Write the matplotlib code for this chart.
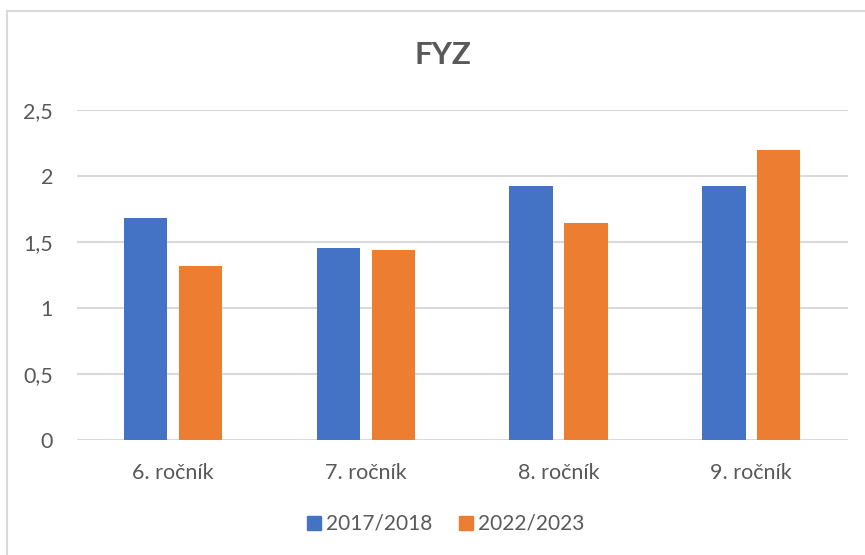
import matplotlib
matplotlib.use("Agg")
import matplotlib.pyplot as plt
from matplotlib.patches import Patch, Rectangle
import numpy as np

# data
categories = ["6. ročník", "7. ročník", "8. ročník", "9. ročník"]
series_names = ["2017/2018", "2022/2023"]
vals_2017 = [1.68, 1.45, 1.92, 1.92]
vals_2022 = [1.32, 1.44, 1.64, 2.20]
yticks = [0, 0.5, 1, 1.5, 2, 2.5]
ytick_labels = ["0", "0,5", "1", "1,5", "2", "2,5"]

blue = "#4472C4"
orange = "#ED7D31"
grey_txt = "#595959"
grid_col = "#D9D9D9"

plt.rcParams["font.family"] = ["Lato", "DejaVu Sans"]

fig = plt.figure(figsize=(8.65, 5.55), dpi=100)
ax = fig.add_axes([76.7 / 865, 1 - 439.7 / 555, 771 / 865, 329.7 / 555])

x = np.arange(len(categories))
w = 0.225
off = 0.1425
ax.bar(x - off, vals_2017, width=w, color=blue, zorder=3)
ax.bar(x + off, vals_2022, width=w, color=orange, zorder=3)

ax.set_xlim(-0.5, len(categories) - 0.5)
ax.set_ylim(0, 2.5)
ax.set_yticks(yticks)
ax.set_yticklabels(ytick_labels)
ax.set_xticks(x)
ax.set_xticklabels(categories)

for s in ax.spines.values():
    s.set_visible(False)
ax.grid(axis="y", color=grid_col, linewidth=1.5, zorder=0)
ax.tick_params(axis="both", length=0, labelsize=15.5, labelcolor=grey_txt)
ax.tick_params(axis="y", pad=17)
ax.tick_params(axis="x", pad=17)

# title
fig.text(443 / 865, 1 - 55.5 / 555, "FYZ", ha="center", va="center",
         fontsize=22.5, fontweight="bold", color=grey_txt)

# legend
handles = [Patch(color=blue), Patch(color=orange)]
fig.legend(handles, series_names, loc="center", bbox_to_anchor=(445.7 / 865, 1 - 524 / 555),
           ncol=2, frameon=False, fontsize=15, handlelength=0.67, handleheight=0.67,
           handletextpad=0.27, columnspacing=1.25, labelcolor=grey_txt, borderpad=0)

# chart area border
fig.patches.append(Rectangle((6.7 / 865, -0.1), 1.2, 1.1 - 11 / 555, transform=fig.transFigure,
                             fill=False, edgecolor="#D9D9D9", linewidth=1.5))

fig.savefig("out.png", dpi=100)
